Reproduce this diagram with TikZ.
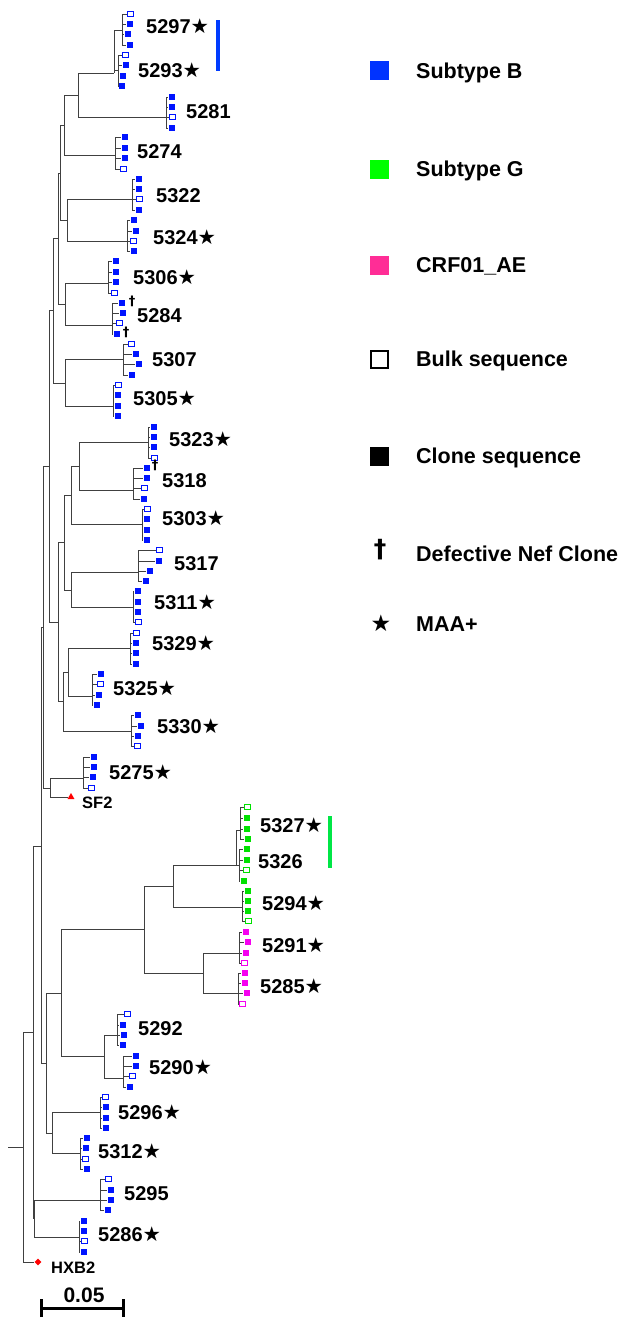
\documentclass[tikz,border=0pt]{standalone}
\usepackage{fontspec}
\setmainfont{Liberation Sans}
\newfontfamily\symfont{DejaVu Sans}
\usetikzlibrary{shapes.geometric, arrows.meta}
\definecolor{treeB}{RGB}{0, 20, 255}
\definecolor{treeG}{RGB}{0, 225, 0}
\definecolor{treeM}{RGB}{245, 0, 240}
\definecolor{legB}{RGB}{0, 51, 255}
\definecolor{legG}{RGB}{0, 255, 0}
\definecolor{legM}{RGB}{255, 45, 150}
\definecolor{barB}{RGB}{0, 60, 255}
\definecolor{barG}{RGB}{0, 230, 70}
\newcommand{\maastar}{{\symfont\fontsize{20.5}{22}\selectfont ★}}

\begin{document}
\begin{tikzpicture}[
    x=1pt, y=-1pt,
    branch/.style={draw=black!75, line width=0.95pt},
    leaf/.style={rectangle, inner sep=0, minimum width=6.8, minimum height=5.2},
    cB/.style={leaf, fill=treeB},
    oB/.style={leaf, draw=treeB, fill=white, line width=0.8pt, minimum width=6, minimum height=4.4},
    cG/.style={leaf, fill=treeG},
    oG/.style={leaf, draw=treeG, fill=white, line width=0.8pt, minimum width=6, minimum height=4.4},
    cM/.style={leaf, fill=treeM},
    oM/.style={leaf, draw=treeM, fill=white, line width=0.8pt, minimum width=6, minimum height=4.4},
    lbl/.style={anchor=base west, inner sep=0, font=\bfseries\fontsize{20}{24}\selectfont},
    ref/.style={anchor=base west, inner sep=0, font=\bfseries\fontsize{16.5}{20}\selectfont},
    dag/.style={inner sep=0, font=\symfont\bfseries\fontsize{13}{15}\selectfont},
    lgbox/.style={rectangle, inner sep=0, minimum size=19},
    lgtxt/.style={anchor=base west, inner sep=0, font=\bfseries\fontsize{21.5}{26}\selectfont},
  ]
    \useasboundingbox (0,0) rectangle (620,1319);

    % Clades and their sequences
    \foreach \c/\cx/\cy/\lst in {
      5297/122/30/{130/14/oB,130/24/cB,128/34/cB,130/45/cB},
      5293/118/70/{125/55/oB,126/65/cB,123/76/cB,122/86/cB},
      5281/166/117/{172/97/cB,172/107/cB,172/117/oB,172/128/cB},
      5274/115/155/{125/137/cB,125/148/cB,125/158/cB,123/169/oB},
      5322/132/199/{139/179/cB,139/189/cB,139/199/oB,139/210/cB},
      5324/127/241/{134/220/cB,136/231/cB,133/241/oB,134/251/cB},
      5306/108/283/{116/261/cB,116/272/cB,116/282/cB,114/293/oB},
      5284/112/325/{122/303/cB,123/313/cB,119/323/oB,117/334/cB},
      5307/123/359/{131/344/oB,136/354/cB,139/364/cB,132/375/cB},
      5305/113/406/{118/385/oB,118/395/cB,118/406/cB,118/416/cB},
      5323/148/442/{154/427/cB,154/437/cB,154/447/cB,154/458/oB},
      5318/133/490/{147/468/cB,147/478/cB,144/488/oB,144/499/cB},
      5303/142/524/{147/509/oB,147/519/cB,147/530/cB,147/540/cB},
      5317/138/572/{159/550/oB,159/561/cB,150/571/cB,146/581/cB},
      5311/133/607/{138/591/cB,138/602/cB,138/612/cB,138/622/oB},
      5329/130/648/{136/633/oB,136/643/cB,136/653/cB,136/664/cB},
      5325/92/696/{101/674/cB,100/684/oB,99/695/cB,97/705/cB},
      5330/131/731/{138/715/cB,141/726/cB,138/736/cB,137/746/oB},
      5275/83/778/{94/757/cB,94/767/cB,93/777/cB,91/788/oB},
      5327/240/830/{247/807/oG,247/818/cG,247/829/cG,248/839/cG},
      5326/239/865/{247/849/cG,247/860/cG,246/870/oG,244/881/cG},
      5294/242/907/{248/891/cG,248/901/cG,248/911/cG,248/921/oG},
      5291/239/953/{246/932/cM,248/942/cM,246/953/cM,244/963/oM},
      5285/238/993/{245/973/cM,245/983/cM,247/993/cM,242/1004/oM},
      5292/117/1035/{127/1014/oB,123/1025/cB,124/1035/cB,123/1045/cB},
      5290/123/1078/{136/1056/cB,136/1066/cB,132/1076/oB,130/1087/cB},
      5296/100/1112/{105/1097/oB,106/1107/cB,106/1118/cB,106/1128/cB},
      5312/80/1153/{87/1138/cB,86/1148/cB,85/1159/oB,87/1169/cB},
      5295/100/1200/{108/1179/oB,111/1190/cB,111/1200/cB,108/1210/cB},
      5286/79/1237/{84/1221/cB,84/1231/cB,84/1241/oB,84/1252/cB}}{
      \coordinate (t\c) at (\cx,\cy);
      \foreach \lx/\ly/\ls [count=\i] in \lst {
        \node[\ls] (t\c-\i) at (\lx,\ly) {};
        \draw[branch] (t\c) |- (t\c-\i.west);
      }
    }

    % Reference strains
    \node[regular polygon, regular polygon sides=3, fill=red, inner sep=0,
          minimum size=8] (sf2) at (71,797) {};
    \node[diamond, fill=red, inner sep=0, minimum size=7] (hxb2) at (38,1262) {};

    % Internal nodes
    \coordinate (a1) at (114,73);   \coordinate (a2) at (78,95);
    \coordinate (a3) at (64,125);   \coordinate (a4) at (60,173);
    \coordinate (a5) at (67,220);   \coordinate (a6) at (58,238);
    \coordinate (a7) at (65,304);   \coordinate (a8) at (53,310);
    \coordinate (a9) at (65,383);   \coordinate (a10) at (49,466);
    \coordinate (b1) at (58,622);   \coordinate (b2) at (79,466);
    \coordinate (b3) at (71,495);   \coordinate (b4) at (64,542);
    \coordinate (b5) at (71,590);   \coordinate (b6) at (63,701);
    \coordinate (b7) at (68,672);
    \coordinate (c1) at (43,627);   \coordinate (c2) at (50,788);
    \coordinate (d1) at (41,846);   \coordinate (d2) at (46,1063);
    \coordinate (d3) at (61,993);   \coordinate (d4) at (144,929);
    \coordinate (d5) at (173,886);  \coordinate (g1) at (236,865);
    \coordinate (e1) at (203,973);  \coordinate (d6) at (104,1056);
    \coordinate (d7) at (52,1133);
    \coordinate (f1) at (33,1032);  \coordinate (f2) at (34,1218);
    \coordinate (rt) at (23,1147);  \coordinate (rtl) at (8,1147);

    \foreach \p/\q in {a1/t5297, a1/t5293, a2/a1, a2/t5281, a3/a2, a3/t5274,
        a4/a3, a4/a5, a5/t5322, a5/t5324, a6/a4, a6/a7, a7/t5306, a7/t5284,
        a8/a6, a8/a9, a9/t5307, a9/t5305, a10/a8, a10/b1,
        b1/b4, b1/b6, b2/t5323, b2/t5318, b3/b2, b3/t5303, b4/b3, b4/b5,
        b5/t5317, b5/t5311, b6/b7, b6/t5330, b7/t5329, b7/t5325,
        c1/a10, c1/c2, c2/t5275, c2/sf2, d1/c1, d1/d2, d2/d3, d2/d7,
        d3/d4, d3/d6, d4/d5, d4/e1, d5/g1, d5/t5294, g1/t5327, g1/t5326,
        e1/t5291, e1/t5285, d6/t5292, d6/t5290, d7/t5296, d7/t5312,
        f1/d1, f1/f2, f2/t5295, f2/t5286, rt/f1, rt/hxb2}
      \draw[branch] (\p) |- (\q);
    \draw[branch] (rtl) -- (rt);

    % Labels
    \node[lbl] (lb5297) at (146,34) {5297\maastar};
    \node[lbl] (lb5293) at (138,78) {5293\maastar};
    \node[lbl] (lb5281) at (186,118) {5281};
    \node[lbl] (lb5274) at (137,158) {5274};
    \node[lbl] (lb5322) at (156,202) {5322};
    \node[lbl] (lb5324) at (153,244) {5324\maastar};
    \node[lbl] (lb5306) at (133,284) {5306\maastar};
    \node[lbl] (lb5284) at (137,322) {5284};
    \node[lbl] (lb5307) at (152,366) {5307};
    \node[lbl] (lb5305) at (133,405) {5305\maastar};
    \node[lbl] (lb5323) at (169,446) {5323\maastar};
    \node[lbl] (lb5318) at (162,487) {5318};
    \node[lbl] (lb5303) at (162,525) {5303\maastar};
    \node[lbl] (lb5317) at (174,570) {5317};
    \node[lbl] (lb5311) at (154,609) {5311\maastar};
    \node[lbl] (lb5329) at (152,650) {5329\maastar};
    \node[lbl] (lb5325) at (113,695) {5325\maastar};
    \node[lbl] (lb5330) at (157,733) {5330\maastar};
    \node[lbl] (lb5275) at (109,779) {5275\maastar};
    \node[ref] (lbsf2) at (82,808) {SF2};
    \node[lbl] (lb5327) at (260,832) {5327\maastar};
    \node[lbl] (lb5326) at (258,868) {5326};
    \node[lbl] (lb5294) at (262,910) {5294\maastar};
    \node[lbl] (lb5291) at (262,952) {5291\maastar};
    \node[lbl] (lb5285) at (260,993) {5285\maastar};
    \node[lbl] (lb5292) at (138,1035) {5292};
    \node[lbl] (lb5290) at (149,1074) {5290\maastar};
    \node[lbl] (lb5296) at (118,1119) {5296\maastar};
    \node[lbl] (lb5312) at (98,1158) {5312\maastar};
    \node[lbl] (lb5295) at (124,1200) {5295};
    \node[lbl] (lb5286) at (98,1241) {5286\maastar};
    \node[ref] (lbhxb2) at (51,1273) {HXB2};

    % Defective clones
    \node[dag] (dg1) at (132,301) {†};
    \node[dag] (dg2) at (126,332) {†};
    \node[dag] (dg3) at (155,465) {†};

    % Subtype bars
    \node[fill=barB, inner sep=0, minimum width=4, minimum height=51] (barb) at (218,45.5) {};
    \node[fill=barG, inner sep=0, minimum width=4, minimum height=52] (barg) at (330,842) {};

    % Scale bar
    \coordinate (sbl) at (40,1308);
    \coordinate (sbr) at (125,1308);
    \draw[line width=3pt, {Bar[width=18pt]}-{Bar[width=18pt]}] (sbl) -- (sbr);
    \node[anchor=base, inner sep=0, font=\bfseries\fontsize{21}{25}\selectfont] (sbt) at (84,1302) {0.05};

    % Legend
    \node[lgbox, fill=legB] (kB) at (379,71) {};
    \node[lgtxt] (kBt) at (416,78.5) {Subtype B};
    \node[lgbox, fill=legG] (kG) at (379,169) {};
    \node[lgtxt] (kGt) at (416,176.5) {Subtype G};
    \node[lgbox, fill=legM] (kM) at (379,265) {};
    \node[lgtxt] (kMt) at (416,272.5) {CRF01\_AE};
    \node[lgbox, draw=black, line width=2pt, minimum size=17] (kO) at (379,359) {};
    \node[lgtxt] (kOt) at (416,366.5) {Bulk sequence};
    \node[lgbox, fill=black] (kC) at (379,456) {};
    \node[lgtxt] (kCt) at (416,463.5) {Clone sequence};
    \node[inner sep=0, font=\symfont\bfseries\fontsize{25}{28}\selectfont] (kD) at (380,550) {†};
    \node[lgtxt] (kDt) at (416,561) {Defective Nef Clone};
    \node[inner sep=0, font=\symfont\fontsize{23}{26}\selectfont] (kS) at (381,623) {★};
    \node[lgtxt] (kSt) at (416,631.5) {MAA+};
  \end{tikzpicture}
\end{document}
